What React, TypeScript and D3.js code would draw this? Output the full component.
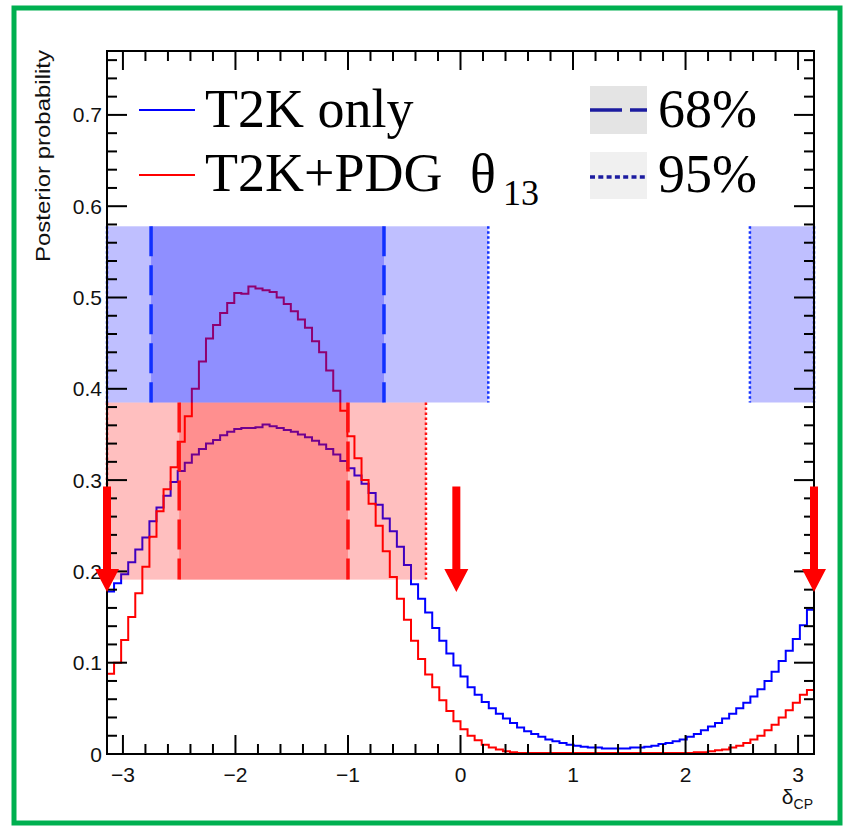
import React from 'react';
import * as d3 from 'd3';

// ---------- data ----------
const X_MIN = -Math.PI;
const X_MAX = Math.PI;
const Y_MAX = 0.77;

// Posterior probability per bin (100 bins over [-pi, pi])
const t2kOnly = [
  0.178, 0.187, 0.197, 0.210, 0.224, 0.237, 0.255, 0.270, 0.283, 0.298,
  0.310, 0.319, 0.328, 0.334, 0.340, 0.344, 0.349, 0.353, 0.356, 0.357,
  0.357, 0.358, 0.361, 0.359, 0.357, 0.355, 0.353, 0.350, 0.347, 0.343,
  0.339, 0.334, 0.328, 0.321, 0.313, 0.305, 0.296, 0.286, 0.273, 0.258,
  0.244, 0.227, 0.207, 0.186, 0.170, 0.155, 0.138, 0.124, 0.110, 0.097,
  0.085, 0.073, 0.065, 0.057, 0.050, 0.044, 0.039, 0.034, 0.029, 0.025,
  0.022, 0.019, 0.016, 0.014, 0.012, 0.010, 0.009, 0.008, 0.007, 0.007,
  0.006, 0.006, 0.006, 0.006, 0.007, 0.007, 0.008, 0.009, 0.011, 0.012,
  0.014, 0.016, 0.019, 0.022, 0.026, 0.030, 0.034, 0.039, 0.044, 0.050,
  0.056, 0.063, 0.071, 0.080, 0.090, 0.102, 0.113, 0.126, 0.141, 0.158,
];

const t2kPdg = [
  0.088, 0.100, 0.125, 0.150, 0.176, 0.205, 0.238, 0.266, 0.290, 0.314,
  0.342, 0.370, 0.400, 0.430, 0.455, 0.470, 0.483, 0.494, 0.505, 0.504,
  0.512, 0.510, 0.508, 0.506, 0.500, 0.493, 0.485, 0.476, 0.467, 0.452,
  0.440, 0.420, 0.398, 0.376, 0.348, 0.324, 0.300, 0.274, 0.250, 0.222,
  0.194, 0.170, 0.147, 0.124, 0.104, 0.087, 0.073, 0.059, 0.047, 0.036,
  0.027, 0.020, 0.015, 0.010, 0.007, 0.005, 0.003, 0.002, 0.001, 0.001,
  0.001, 0.001, 0.001, 0.001, 0.001, 0.001, 0.001, 0.001, 0.001, 0.001,
  0.001, 0.001, 0.001, 0.001, 0.001, 0.001, 0.001, 0.001, 0.001, 0.001,
  0.001, 0.001, 0.001, 0.002, 0.002, 0.003, 0.004, 0.005, 0.007, 0.009,
  0.012, 0.016, 0.020, 0.026, 0.032, 0.040, 0.048, 0.056, 0.065, 0.070,
];

const xTicks = [-3, -2, -1, 0, 1, 2, 3];
const xTickLabels = ['\u22123', '\u22122', '\u22121', '0', '1', '2', '3'];
const yTicks = [0, 0.1, 0.2, 0.3, 0.4, 0.5, 0.6, 0.7];
const yTickLabels = ['0', '0.1', '0.2', '0.3', '0.4', '0.5', '0.6', '0.7'];

// credible intervals
const t2k95 = [[-Math.PI, 0.247], [2.572, Math.PI]];
const t2k68 = [[-2.75, -0.68]];
const pdg95 = [[-Math.PI, -0.307]];
const pdg68 = [[-2.5, -1.0]];
const t2kBandY = [0.385, 0.578];
const pdgBandY = [0.191, 0.385];

// arrows
const arrowXs = [-Math.PI, -0.037, Math.PI];
const arrowTop = 0.293;
const arrowNeck = 0.2025;
const arrowTip = 0.1775;

// ---------- layout ----------
const W = 846;
const H = 830;
const L = 107, R = 814, T = 51, B = 754;

const x = d3.scaleLinear().domain([X_MIN, X_MAX]).range([L, R]);
const y = d3.scaleLinear().domain([0, Y_MAX]).range([B, T]);

function histPath(vals: number[]) {
  const n = vals.length;
  const w = (X_MAX - X_MIN) / n;
  const pts: [number, number][] = vals.map((v, i) => [X_MIN + i * w, v]);
  pts.push([X_MAX, vals[n - 1]]);
  const line = d3
    .line<[number, number]>()
    .x((d) => x(d[0]))
    .y((d) => y(d[1]))
    .curve(d3.curveStepAfter);
  return line(pts) || '';
}

const SANS = '"Liberation Sans", Arial, Helvetica, sans-serif';
const SERIF = '"Liberation Serif", "Times New Roman", serif';

export default function App() {
  const xMinor = d3.range(-15, 16).map((k) => k * 0.2).filter((v) => Math.abs(v - Math.round(v)) > 1e-6 && v > X_MIN && v < X_MAX);
  const yMinor = d3.range(0, 39).map((k) => k * 0.02).filter((v) => Math.abs(v * 10 - Math.round(v * 10)) > 1e-6 && v < Y_MAX);

  const band = (iv: number[][], by: number[], fill: string, key: string) =>
    iv.map((d, i) => (
      <rect
        key={key + i}
        x={x(d[0])}
        y={y(by[1])}
        width={x(d[1]) - x(d[0])}
        height={y(by[0]) - y(by[1])}
        fill={fill}
        fillOpacity={0.25}
      />
    ));

  const vline = (xv: number, by: number[], color: string, dash: string, w: number, key: string) => (
    <line key={key} x1={x(xv)} x2={x(xv)} y1={y(by[1])} y2={y(by[0])} stroke={color} strokeWidth={w} strokeDasharray={dash} />
  );

  return (
    <svg width={W} height={H} style={{ position: 'absolute', left: 0, top: 0, background: '#fff' }}>
      <rect x={0} y={0} width={W} height={H} fill="#fff" />
      {/* green outline */}
      <rect x={14} y={8} width={826} height={815} fill="none" stroke="#00b050" strokeWidth={5} />

      {/* histograms */}
      <g clipPath="url(#plotclip)">
        <path d={histPath(t2kOnly)} fill="none" stroke="#0000ff" strokeWidth={2} />
        <path d={histPath(t2kPdg)} fill="none" stroke="#ff0000" strokeWidth={2} />
      </g>
      <defs>
        <clipPath id="plotclip">
          <rect x={L} y={T} width={R - L} height={B - T} />
        </clipPath>
      </defs>

      {/* bands */}
      {band(pdg95, pdgBandY, '#ff0000', 'p95')}
      {band(pdg68, pdgBandY, '#ff0000', 'p68')}
      {band(t2k95, t2kBandY, '#0000ff', 't95')}
      {band(t2k68, t2kBandY, '#0000ff', 't68')}

      {/* interval edges */}
      {t2k68.flat().map((v, i) => vline(v, t2kBandY, '#1030ff', '30,9', 3.5, 'bd' + i))}
      {t2k95.flat().map((v, i) => vline(v, t2kBandY, '#1030ff', '2.5,2.5', 2.5, 'bt' + i))}
      {pdg68.flat().map((v, i) => vline(v, pdgBandY, '#ff1010', '30,9', 3.5, 'rd' + i))}
      {pdg95.flat().map((v, i) => vline(v, pdgBandY, '#ff1010', '2.5,2.5', 2.5, 'rt' + i))}

      {/* frame */}
      <rect x={L} y={T} width={R - L} height={B - T} fill="none" stroke="#000" strokeWidth={2} />
      {/* x ticks */}
      {xTicks.map((v) => (
        <g key={'xt' + v} stroke="#000" strokeWidth={2}>
          <line x1={x(v)} x2={x(v)} y1={B} y2={B - 19} />
          <line x1={x(v)} x2={x(v)} y1={T} y2={T + 19} />
        </g>
      ))}
      {xMinor.map((v) => (
        <g key={'xm' + v} stroke="#000" strokeWidth={2}>
          <line x1={x(v)} x2={x(v)} y1={B} y2={B - 10} />
          <line x1={x(v)} x2={x(v)} y1={T} y2={T + 10} />
        </g>
      ))}
      {/* y ticks */}
      {yTicks.map((v) => (
        <g key={'yt' + v} stroke="#000" strokeWidth={2}>
          <line x1={L} x2={L + 20} y1={y(v)} y2={y(v)} />
          <line x1={R} x2={R - 20} y1={y(v)} y2={y(v)} />
        </g>
      ))}
      {yMinor.map((v) => (
        <g key={'ym' + v} stroke="#000" strokeWidth={2}>
          <line x1={L} x2={L + 10} y1={y(v)} y2={y(v)} />
          <line x1={R} x2={R - 10} y1={y(v)} y2={y(v)} />
        </g>
      ))}

      {/* tick labels */}
      {xTicks.map((v, i) => (
        <text key={'xl' + v} x={x(v)} y={782} textAnchor="middle" fontFamily={SANS} fontSize={21} fill="#111">
          {xTickLabels[i]}
        </text>
      ))}
      {yTicks.map((v, i) => (
        <text key={'yl' + v} x={L - 5} y={y(v) + 7.5} textAnchor="end" fontFamily={SANS} fontSize={21} fill="#111">
          {yTickLabels[i]}
        </text>
      ))}

      {/* axis titles */}
      <text
        transform={`translate(50, 50) rotate(-90)`}
        textAnchor="end"
        fontFamily={SANS}
        fontSize={21}
        fill="#111"
        textLength={212}
        lengthAdjust="spacingAndGlyphs"
      >
        Posterior probability
      </text>
      <text x={813} y={804} textAnchor="end" fontFamily={SANS} fontSize={21} fill="#111">
        δ<tspan fontSize={14} dy={5}>CP</tspan>
      </text>

      {/* legend */}
      <line x1={139} x2={195} y1={110} y2={110} stroke="#0000ff" strokeWidth={2} />
      <text x={205} y={127} fontFamily={SERIF} fontSize={54} fill="#000">T2K only</text>
      <line x1={139} x2={195} y1={175} y2={175} stroke="#ff0000" strokeWidth={2} />
      <text x={205} y={191} fontFamily={SERIF} fontSize={54} fill="#000">T2K+PDG</text>
      <text x={470} y={192} fontFamily={SERIF} fontSize={54} fill="#000">θ</text>
      <text x={503} y={205} fontFamily={SERIF} fontSize={36} fill="#000">13</text>

      <rect x={590} y={86} width={57} height={48} fill="#e4e4e4" />
      <line x1={590} x2={647} y1={110} y2={110} stroke="#1c1ca0" strokeWidth={3.5} strokeDasharray="32,8" />
      <text x={658} y={127} fontFamily={SERIF} fontSize={54} fill="#000">68%</text>
      <rect x={590} y={152} width={57} height={47} fill="#f0f0f0" />
      <line x1={590} x2={647} y1={177} y2={177} stroke="#1c1ca0" strokeWidth={3.5} strokeDasharray="5,3.3" />
      <text x={658} y={192} fontFamily={SERIF} fontSize={54} fill="#000">95%</text>

      {/* arrows */}
      {arrowXs.map((v, i) => {
        const cx = x(v);
        const d = `M${cx - 4},${y(arrowTop)} L${cx + 4},${y(arrowTop)} L${cx + 4},${y(arrowNeck)} L${cx + 12},${y(arrowNeck)} L${cx},${y(arrowTip)} L${cx - 12},${y(arrowNeck)} L${cx - 4},${y(arrowNeck)} Z`;
        return <path key={'ar' + i} d={d} fill="#ff0000" />;
      })}
    </svg>
  );
}
